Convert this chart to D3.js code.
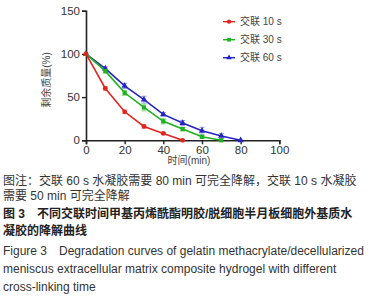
<!DOCTYPE html>
<html>
<head>
<meta charset="utf-8">
<script src="https://cdn.jsdelivr.net/npm/d3@7"></script>
<style>
  body { margin: 0; background: #fff; }
  svg { display: block; font-family: "Liberation Sans", Arial, "Noto Sans CJK SC", sans-serif; }
</style>
</head>
<body>
<div id="chart"></div>
<script>
// Data (remaining mass %, by time in min)
const times = [0, 10, 20, 30, 40, 50, 60, 70, 80];
const seriesNames = ["交联 10 s", "交联 30 s", "交联 60 s"];
const red10 = [100, 60, 33, 16, 8, 0];
const green30 = [100, 80, 55, 38, 22, 13, 4, 0];
const blue60 = [100, 83, 63, 47, 30, 20, 11, 5, 0];
const err10 = [0, 2, 2, 2, 1, 0];
const err30 = [0, 2, 3, 4, 3, 2, 2, 0];
const err60 = [0, 2, 3, 4, 2, 3, 4, 3, 0];
const xTicks = [0, 20, 40, 60, 80, 100];
const yTicks = [0, 50, 100, 150];
const captionLines = [
  "图注：交联 60 s 水凝胶需要 80 min 可完全降解，交联 10 s 水凝胶",
  "需要 50 min 可完全降解",
  "图 3　不同交联时间甲基丙烯酰酯明胶/脱细胞半月板细胞外基质水",
  "凝胶的降解曲线",
  "Figure 3　Degradation curves of gelatin methacrylate/decellularized",
  "meniscus extracellular matrix composite hydrogel with different",
  "cross-linking time"
];

const colors = ["#e3241f", "#1fb21f", "#2424c4"];
const errColors = ["#f08a86", "#7fe07f", "#9a9af0"];
const shapes = [d3.symbolCircle, d3.symbolSquare, d3.symbolTriangle];

const W = 374, H = 300;
const svg = d3.select("#chart").append("svg").attr("width", W).attr("height", H);

const x = d3.scaleLinear().domain([0, 100]).range([86, 279.3]);
const y = d3.scaleLinear().domain([0, 150]).range([140.3, 10.7]);

const allSeries = [red10, green30, blue60].map((vals, i) => ({
  name: seriesNames[i],
  color: colors[i],
  ecolor: errColors[i],
  shape: shapes[i],
  pts: vals.map((v, j) => ({ t: times[j], v, e: [err10, err30, err60][i][j] }))
}));

// axes
const xAxis = svg.append("g").attr("transform", `translate(0,${y(0)})`)
  .call(d3.axisBottom(x).tickValues(xTicks).tickSize(4).tickPadding(2));
const yAxis = svg.append("g").attr("transform", `translate(${x(0)},0)`)
  .call(d3.axisLeft(y).tickValues(yTicks).tickSize(4).tickPadding(2));
[xAxis, yAxis].forEach(g => {
  g.select(".domain").attr("stroke", "#222").attr("stroke-width", 1.6);
  g.selectAll(".tick line").attr("stroke", "#222").attr("stroke-width", 1.4);
  g.selectAll(".tick text").attr("fill", "#333").style("font-size", "11.5px");
});

// axis titles
svg.append("text").attr("x", 189).attr("y", 164).attr("text-anchor", "middle")
  .attr("fill", "#444").style("font-size", "10px").text("时间(min)");
svg.append("text").attr("transform", "translate(50,80) rotate(-90)").attr("text-anchor", "middle")
  .attr("fill", "#444").style("font-size", "10px").text("剩余质量(%)");

const line = d3.line().x(d => x(d.t)).y(d => y(d.v));

// draw back to front: blue, green, red
allSeries.slice().reverse().forEach(s => {
  const g = svg.append("g");
  // error bars
  s.pts.filter(d => d.e > 0).forEach(d => {
    g.append("line").attr("x1", x(d.t)).attr("x2", x(d.t))
      .attr("y1", y(d.v + d.e)).attr("y2", y(d.v - d.e))
      .attr("stroke", s.ecolor).attr("stroke-width", 1);
    [d.v + d.e, d.v - d.e].forEach(v => {
      g.append("line").attr("x1", x(d.t) - 2.5).attr("x2", x(d.t) + 2.5)
        .attr("y1", y(v)).attr("y2", y(v))
        .attr("stroke", s.ecolor).attr("stroke-width", 1);
    });
  });
  g.append("path").datum(s.pts).attr("d", line)
    .attr("fill", "none").attr("stroke", s.color).attr("stroke-width", 1.6);
  g.selectAll("path.pt").data(s.pts).enter().append("path").attr("class", "pt")
    .attr("transform", d => `translate(${x(d.t)},${y(d.v)})`)
    .attr("d", d3.symbol().type(s.shape).size(18))
    .attr("fill", s.color);
});

// legend
const leg = svg.append("g");
allSeries.forEach((s, i) => {
  const ly = 21.7 + i * 18;
  leg.append("line").attr("x1", 223).attr("x2", 235).attr("y1", ly).attr("y2", ly)
    .attr("stroke", s.color).attr("stroke-width", 1.4);
  leg.append("path").attr("transform", `translate(229,${ly})`)
    .attr("d", d3.symbol().type(s.shape).size(14)).attr("fill", s.color);
  leg.append("text").attr("x", 240).attr("y", ly + 3.5).attr("fill", "#444")
    .style("font-size", "10px").text(s.name);
});

// caption
const capY = [185, 200, 218, 235, 255, 273, 291];
captionLines.forEach((t, i) => {
  svg.append("text").attr("x", 3).attr("y", capY[i])
    .attr("fill", i === 2 || i === 3 ? "#222" : "#333")
    .style("font-size", "12px")
    .style("font-weight", i === 2 || i === 3 ? "bold" : "normal")
    .text(t);
});
</script>
</body>
</html>
